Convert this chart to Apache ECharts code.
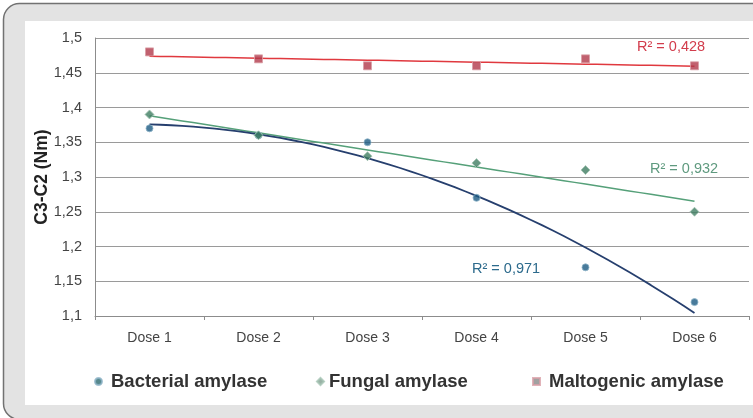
<!DOCTYPE html>
<html><head><meta charset="utf-8">
<script src="https://cdn.jsdelivr.net/npm/echarts@6/dist/echarts.min.js"></script>
<style>html,body{margin:0;padding:0;background:#fff}#c{width:753px;height:418px}</style>
</head><body><div id="c"></div>
<script>
const categories = ['Dose 1','Dose 2','Dose 3','Dose 4','Dose 5','Dose 6'];
const bacterial = [1.37, 1.36, 1.35, 1.27, 1.17, 1.12];
const fungal = [1.39, 1.36, 1.33, 1.32, 1.31, 1.25];
const maltogenic = [1.48, 1.47, 1.46, 1.46, 1.47, 1.46];
const r2Labels = ['R² = 0,971', 'R² = 0,932', 'R² = 0,428'];
const seriesNames = ['Bacterial amylase', 'Fungal amylase', 'Maltogenic amylase'];

// least-squares polynomial fit (trend lines, as in the original spreadsheet chart)
function polyfit(ys, order) {
  const n = order + 1, A = [], b = [];
  for (let i = 0; i < n; i++) { A.push(new Array(n).fill(0)); b.push(0); }
  ys.forEach((y, k) => {
    const x = k + 1;
    for (let i = 0; i < n; i++) {
      b[i] += y * Math.pow(x, i);
      for (let j = 0; j < n; j++) A[i][j] += Math.pow(x, i + j);
    }
  });
  for (let i = 0; i < n; i++) {
    let p = i; for (let r = i + 1; r < n; r++) if (Math.abs(A[r][i]) > Math.abs(A[p][i])) p = r;
    [A[i], A[p]] = [A[p], A[i]]; [b[i], b[p]] = [b[p], b[i]];
    for (let r = i + 1; r < n; r++) {
      const f = A[r][i] / A[i][i];
      for (let c = i; c < n; c++) A[r][c] -= f * A[i][c];
      b[r] -= f * b[i];
    }
  }
  const co = new Array(n).fill(0);
  for (let i = n - 1; i >= 0; i--) {
    let s = b[i]; for (let c = i + 1; c < n; c++) s -= A[i][c] * co[c];
    co[i] = s / A[i][i];
  }
  return co;
}
function trend(ys, order) {
  const co = polyfit(ys, order), pts = [];
  for (let k = 0; k <= 50; k++) {
    const x = 1 + 5 * k / 50;
    let y = 0; co.forEach((c, i) => y += c * Math.pow(x, i));
    pts.push([x, y]);
  }
  return pts;
}

const chart = echarts.init(document.getElementById('c'));
const FONT = 'Liberation Sans, Arial, sans-serif';
const r2Text = (txt, x, y, color) => ({ type: 'text', z: 10,
  style: { x: x, y: y, text: txt, fill: color, font: '14.5px ' + FONT, align: 'left', verticalAlign: 'middle' } });
const legendIcons = ['circle', 'diamond', 'rect'];
const legendIconColors = ['#2c6a70', '#7f9d8e', '#8a8a8a'];
const legendLefts = [94, 316, 532];
const legendGaps = [4, 0, 4];
chart.setOption({
  animation: false,
  backgroundColor: '#ffffff',
  graphic: [
    { type: 'rect', z: -10, shape: { x: 3.5, y: 3.5, width: 800, height: 416, r: 16 },
      style: { fill: '#e3e3e3', stroke: '#727272', lineWidth: 1.5 } },
    { type: 'rect', z: -9, shape: { x: 25, y: 21, width: 728, height: 384 },
      style: { fill: '#ffffff' } },
    r2Text(r2Labels[2], 637, 47, '#d23c4c'),
    r2Text(r2Labels[1], 650, 168.5, '#5f9a7f'),
    r2Text(r2Labels[0], 472, 269, '#2c6a8c')
  ],
  grid: { left: 95, right: 4, top: 38, bottom: 102, containLabel: false },
  legend: seriesNames.map((nm, i) => ({
    top: 372, left: legendLefts[i], itemWidth: 7, itemHeight: 7, padding: 0,
    textStyle: { fontFamily: FONT, fontWeight: 'bold', fontSize: 18.5, color: '#333', padding: [0, 0, 0, legendGaps[i]] },
    data: [{ name: nm, icon: legendIcons[i], itemStyle: { color: legendIconColors[i] } }]
  })),
  xAxis: [
    { type: 'category', data: categories, boundaryGap: true,
      axisLine: { lineStyle: { color: '#8c8c8c', width: 1 } },
      axisTick: { show: true, length: 4, lineStyle: { color: '#8c8c8c' } },
      axisLabel: { color: '#444', fontFamily: FONT, fontSize: 14, margin: 15 } },
    { type: 'value', min: 0.5, max: 6.5, show: false }
  ],
  yAxis: {
    type: 'value', min: 1.1, max: 1.5, interval: 0.05,
    name: 'C3-C2 (Nm)', nameLocation: 'middle', nameGap: 44, nameRotate: 90, nameMoveOverlap: false,
    nameTextStyle: { fontFamily: FONT, fontWeight: 'bold', fontSize: 17.5, color: '#222' },
    axisLine: { show: true, lineStyle: { color: '#8c8c8c' } },
    axisTick: { show: false },
    splitLine: { lineStyle: { color: '#9a9a9a', width: 1 } },
    axisLabel: { color: '#444', fontFamily: FONT, fontSize: 14.5, margin: 13,
      formatter: v => String(Math.round(v * 100) / 100).replace('.', ',') }
  },
  series: [
    { name: seriesNames[2] + ' trend', type: 'line', xAxisIndex: 1, data: trend(maltogenic, 1),
      symbol: 'none', lineStyle: { color: '#e0393f', width: 1.5 }, z: 3, silent: true },
    { name: seriesNames[1] + ' trend', type: 'line', xAxisIndex: 1, data: trend(fungal, 1),
      symbol: 'none', lineStyle: { color: '#55a079', width: 1.5 }, z: 3, silent: true },
    { name: seriesNames[0] + ' trend', type: 'line', xAxisIndex: 1, data: trend(bacterial, 2),
      symbol: 'none', lineStyle: { color: '#263f6e', width: 1.8 }, z: 3, silent: true },
    { name: seriesNames[0], type: 'scatter', data: bacterial, symbol: 'circle', symbolSize: 7,
      itemStyle: { color: '#1c5a82', borderColor: '#8fb4c8', borderWidth: 1 }, z: 4 },
    { name: seriesNames[1], type: 'scatter', data: fungal, symbol: 'diamond', symbolSize: 9,
      itemStyle: { color: '#3f7d62', borderColor: '#a5c4b4', borderWidth: 1 }, z: 4 },
    { name: seriesNames[2], type: 'scatter', data: maltogenic, symbol: 'rect', symbolSize: 8,
      itemStyle: { color: '#b23a4b', borderColor: '#d9a0a8', borderWidth: 1 }, z: 4 }
  ]
});
</script></body></html>
